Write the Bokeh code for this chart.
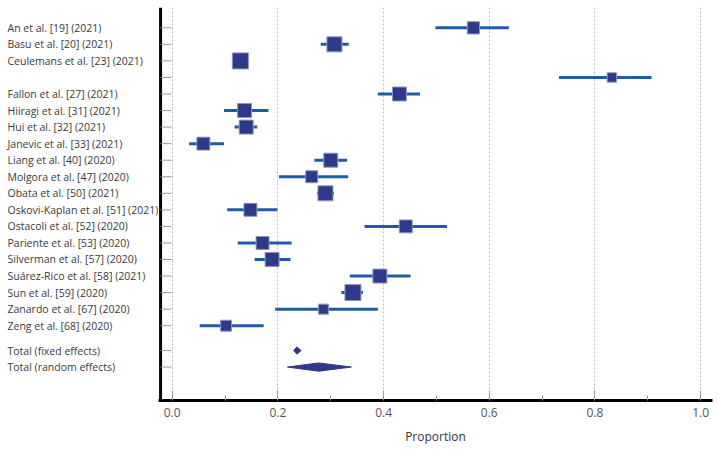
from bokeh.plotting import figure
from bokeh.layouts import row
from bokeh.models import (ColumnDataSource, Range1d, FixedTicker,
                          NumeralTickFormatter)
from bokeh.core.properties import value
from bokeh.embed import file_html
from bokeh.resources import INLINE
import math

# ---- data ----
studies = [
    "An et al. [19] (2021)",
    "Basu et al. [20] (2021)",
    "Ceulemans et al. [23] (2021)",
    "",
    "Fallon et al. [27] (2021)",
    "Hiiragi et al. [31] (2021)",
    "Hui et al. [32] (2021)",
    "Janevic et al. [33] (2021)",
    "Liang et al. [40] (2020)",
    "Molgora et al. [47] (2020)",
    "Obata et al. [50] (2021)",
    "Oskovi-Kaplan et al. [51] (2021)",
    "Ostacoli et al. [52] (2020)",
    "Pariente et al. [53] (2020)",
    "Silverman et al. [57] (2020)",
    "Suárez-Rico et al. [58] (2021)",
    "Sun et al. [59] (2020)",
    "Zanardo et al. [67] (2020)",
    "Zeng et al. [68] (2020)",
]
proportion = [0.570, 0.307, 0.129, 0.832, 0.430, 0.137, 0.140, 0.059, 0.300,
              0.264, 0.290, 0.148, 0.442, 0.171, 0.189, 0.393, 0.342, 0.286, 0.102]
ci_low = [0.498, 0.281, 0.118, 0.732, 0.389, 0.098, 0.118, 0.032, 0.269,
          0.202, 0.274, 0.104, 0.364, 0.124, 0.156, 0.336, 0.320, 0.195, 0.052]
ci_high = [0.637, 0.334, 0.141, 0.907, 0.469, 0.182, 0.161, 0.098, 0.331,
           0.333, 0.306, 0.199, 0.520, 0.226, 0.224, 0.451, 0.361, 0.389, 0.173]
weight = [4.4, 6.6, 7.5, 2.6, 5.7, 5.7, 5.7, 4.9, 5.7, 4.2, 6.6, 4.9, 4.9,
          4.9, 5.7, 5.7, 7.5, 2.9, 3.5]

total_labels = ["Total (fixed effects)", "Total (random effects)"]
total_est = [0.236, 0.277]
total_low = [0.230, 0.218]
total_high = [0.244, 0.339]

x_ticks = [0.0, 0.2, 0.4, 0.6, 0.8, 1.0]
x_minor = [0.1, 0.3, 0.5, 0.7, 0.9]

# ---- layout constants ----
n = len(studies)
study_y = list(range(n))
total_y = [n + 0.5, n + 1.5]
all_y = study_y + total_y
FONT = "Open Sans"
SQ_FILL = "#2e3a87"
CI_COLOR = "#1f5ca8"
AXIS_X = -0.022           # where the left axis line sits
PX_PER_UNIT = 528.5       # horizontal px per unit of proportion
Y_TOP, Y_BOTTOM = -1.2266, 22.52
LABEL_W = 158
TOP = 7
FRAME_H = 393

yr = Range1d(Y_BOTTOM, Y_TOP)

# ---- main plot ----
p = figure(frame_width=554, frame_height=FRAME_H, output_backend="svg",
           toolbar_location=None, x_range=Range1d(-0.02592, 1.02233),
           y_range=yr, min_border_left=0, min_border_top=TOP,
           min_border_right=1, min_border_bottom=10, y_axis_location=None)
p.outline_line_color = None
p.background_fill_color = "white"
p.border_fill_color = "white"

src = ColumnDataSource(dict(
    y=study_y, est=proportion, lo=ci_low, hi=ci_high,
    size=[5.85 * math.sqrt(w) for w in weight]))

# manual left axis line and inward ticks
p.segment(x0=[AXIS_X], x1=[AXIS_X], y0=[Y_TOP], y1=[Y_BOTTOM],
          line_color="black", line_width=3)
p.segment(x0=[AXIS_X] * len(all_y),
          x1=[AXIS_X + 11 / PX_PER_UNIT] * len(all_y),
          y0=all_y, y1=all_y, line_color="#999999", line_width=1)

p.segment(x0="lo", x1="hi", y0="y", y1="y", source=src,
          line_color=CI_COLOR, line_width=3)
p.scatter(x="est", y="y", size="size", marker="square", source=src,
          fill_color=SQ_FILL, line_color="#8c95c6", line_width=1)

# diamonds for totals
half_h = [0.22, 0.25]
xs, ys = [], []
for e, lo, hi, yy, hh in zip(total_est, total_low, total_high, total_y, half_h):
    xs.append([lo, e, hi, e])
    ys.append([yy, yy - hh, yy, yy + hh])
p.patches(xs=xs, ys=ys, fill_color=SQ_FILL, line_color=SQ_FILL, line_width=1)

# x axis
p.xaxis.ticker = FixedTicker(ticks=x_ticks, minor_ticks=x_minor)
p.xaxis.formatter = NumeralTickFormatter(format="0.0")
p.xaxis.axis_label = "Proportion"
p.xaxis.axis_label_text_font = FONT
p.xaxis.axis_label_text_font_style = "normal"
p.xaxis.axis_label_text_font_size = "12px"
p.xaxis.axis_label_text_color = "#333333"
p.xaxis.axis_label_standoff = 8
p.xaxis.major_label_text_font = FONT
p.xaxis.major_label_text_font_size = "12px"
p.xaxis.major_label_text_color = "#555555"
p.xaxis.major_label_standoff = 7
p.xaxis.axis_line_width = 3
p.xaxis.axis_line_color = "black"
p.xaxis.major_tick_in = 10
p.xaxis.major_tick_out = 0
p.xaxis.minor_tick_in = 5
p.xaxis.minor_tick_out = 0
p.xaxis.major_tick_line_color = "#999999"
p.xaxis.minor_tick_line_color = "#999999"

p.xgrid.ticker = FixedTicker(ticks=x_ticks)
p.xgrid.grid_line_color = "#bbbbbb"
p.xgrid.grid_line_dash = "2 2"
p.ygrid.grid_line_color = None

# ---- label column ----
lp = figure(frame_width=LABEL_W, frame_height=FRAME_H, output_backend="svg",
            toolbar_location=None, x_range=Range1d(0, LABEL_W), y_range=yr,
            min_border_left=0, min_border_right=0, min_border_top=TOP,
            min_border_bottom=10, x_axis_location=None, y_axis_location=None)
lp.outline_line_color = None
lp.grid.grid_line_color = None
lab_src = ColumnDataSource(dict(
    x=[7] * len(all_y), y=all_y, text=studies + total_labels))
lp.text(x="x", y="y", text="text", source=lab_src, text_align="left",
        text_baseline="middle", text_font=value(FONT),
        text_font_size=value("10.5px"), text_color="#3a3a3a")

layout = row(lp, p, spacing=0)
open("out.html", "w").write(file_html(layout, INLINE))
